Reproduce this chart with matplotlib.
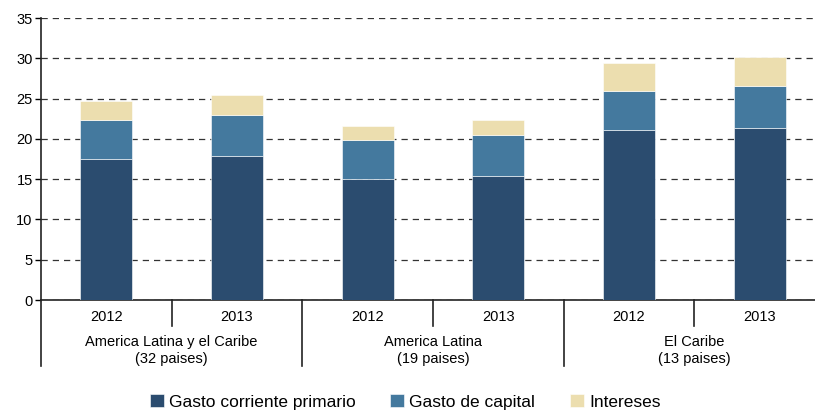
import matplotlib.pyplot as plt
import numpy as np

plt.rcParams['font.family'] = ['Liberation Sans', 'DejaVu Sans']

years = ['2012', '2013', '2012', '2013', '2012', '2013']
groups = ['America Latina y el Caribe\n(32 paises)', 'America Latina\n(19 paises)', 'El Caribe\n(13 paises)']
gasto_corriente = [17.5, 17.9, 15.0, 15.4, 21.1, 21.3]
gasto_capital = [4.9, 5.1, 4.9, 5.1, 4.9, 5.3]
intereses = [2.3, 2.4, 1.7, 1.8, 3.4, 3.5]

colors = ['#2b4c6f', '#44799e', '#ecdeaf']
labels = ['Gasto corriente primario', 'Gasto de capital', 'Intereses']

fig = plt.figure(figsize=(8.15, 4.15), dpi=100)
ax = fig.add_axes([41 / 815, 115 / 415, 784 / 815, 282 / 415])

x = np.arange(len(years))
bottom = np.zeros(len(years))
for vals, c, lab in zip([gasto_corriente, gasto_capital, intereses], colors, labels):
    ax.bar(x, vals, width=0.4, bottom=bottom, color=c, label=lab,
           edgecolor='white', linewidth=0.4, zorder=3)
    bottom += np.array(vals)

ax.set_xlim(-0.5, 5.5)
ax.set_ylim(0, 35)
ax.set_yticks(range(0, 36, 5))
ax.yaxis.grid(True, linestyle=(0, (5, 4)), color='#333333', linewidth=0.9, zorder=0)
ax.set_axisbelow(True)
for s in ['top', 'right']:
    ax.spines[s].set_visible(False)
ax.spines['left'].set_color('#222222')
ax.spines['bottom'].set_color('#222222')
ax.spines['left'].set_linewidth(1.2)
ax.spines['bottom'].set_linewidth(1.2)
ax.tick_params(axis='y', length=4, width=1, labelsize=10.5, pad=2)
ax.set_xticks([])

trans = ax.get_xaxis_transform()
# year labels and separators
for i, yr in enumerate(years):
    ax.text(i, -0.06, yr, transform=trans, ha='center', va='center', fontsize=10.5)
for xs in [0.5, 2.5, 4.5]:
    ax.plot([xs, xs], [0, -0.092], transform=trans, color='#222222', lw=1.2, clip_on=False)
for j, g in enumerate(groups):
    ax.text(2 * j + 0.5, -0.178, g, transform=trans, ha='center', va='center',
            fontsize=10.5, linespacing=1.25)
for xs in [-0.5, 1.5, 3.5, 5.5]:
    ax.plot([xs, xs], [0, -0.235], transform=trans, color='#222222', lw=1.2, clip_on=False)

fig.legend(loc='lower center', bbox_to_anchor=(0.497, -0.025), ncol=3, frameon=False,
           fontsize=12.5, handlelength=0.8, handleheight=0.8, handletextpad=0.3,
           columnspacing=2.0)

fig.savefig('out.png', dpi=100)
